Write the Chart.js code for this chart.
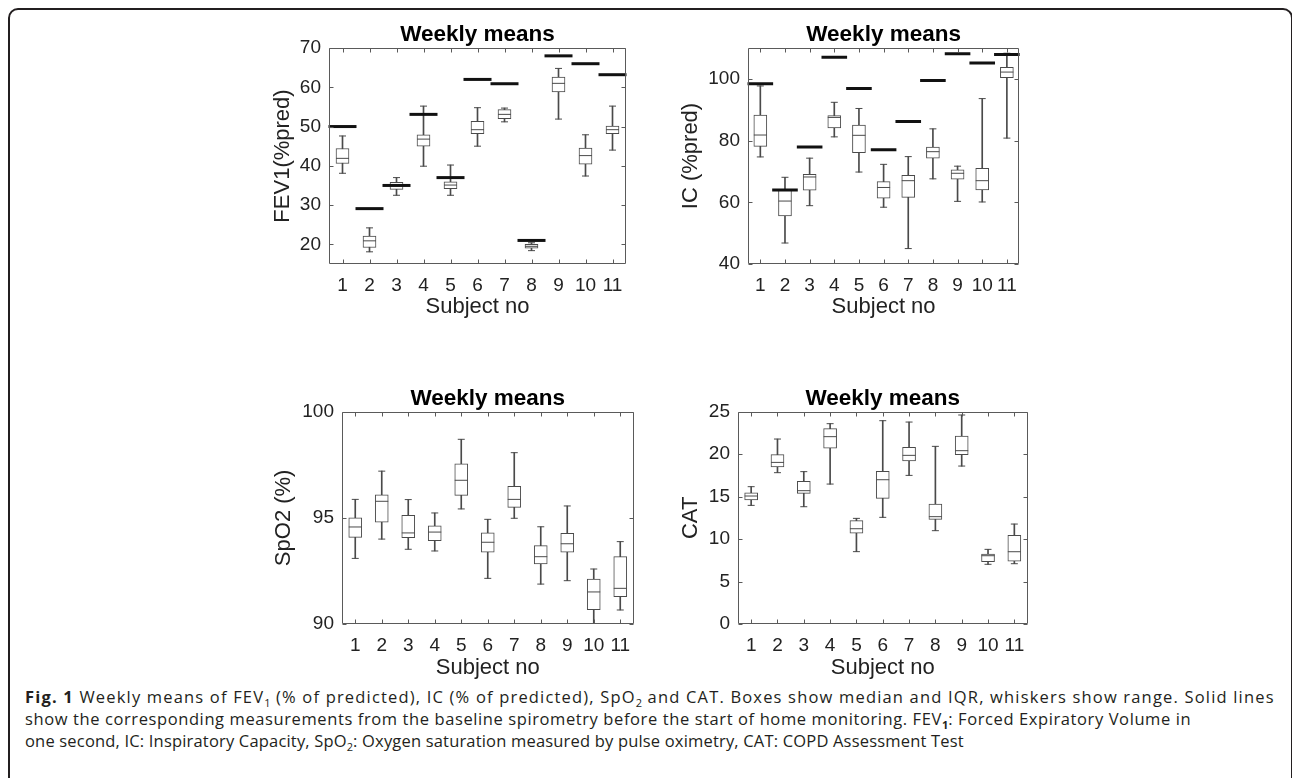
<!DOCTYPE html>
<html><head><meta charset="utf-8">
<script src="https://cdn.jsdelivr.net/npm/chart.js@4.4.1/dist/chart.umd.min.js"></script>
<style>
html,body{margin:0;padding:0;background:#fff;width:1292px;height:778px;overflow:hidden;position:relative;}
#frame{position:absolute;left:8px;top:8px;width:1285px;height:800px;border:2px solid #231f20;border-radius:10px;box-sizing:border-box;}
canvas{position:absolute;}
#cap{position:absolute;left:25px;top:686px;font-family:"Open Sans",sans-serif;font-size:16.5px;color:#231f20;white-space:nowrap;}
#cap div{height:22px;line-height:22px;}
#cap .l1{letter-spacing:1.18px;}
#cap .l2{letter-spacing:0.6px;}
#cap .l3{letter-spacing:0.18px;}
#cap sub{font-size:11px;line-height:0;vertical-align:baseline;position:relative;top:4px;letter-spacing:0;}
</style></head><body>
<div id="frame"></div>
<canvas id="c1" width="373" height="298" style="left:270px;top:22px"></canvas>
<canvas id="c2" width="357" height="298" style="left:678px;top:22px"></canvas>
<canvas id="c3" width="370" height="295" style="left:271px;top:386px"></canvas>
<canvas id="c4" width="357" height="295" style="left:678px;top:386px"></canvas>
<div id="cap">
<div class="l1"><b>Fig. 1</b> Weekly means of FEV<sub>1</sub> (% of predicted), IC (% of predicted), SpO<sub>2</sub> and CAT. Boxes show median and IQR, whiskers show range. Solid lines</div>
<div class="l2">show the corresponding measurements from the baseline spirometry before the start of home monitoring. FEV<sub><b>1</b></sub>: Forced Expiratory Volume in</div>
<div class="l3">one second, IC: Inspiratory Capacity, SpO<sub>2</sub>: Oxygen saturation measured by pulse oximetry, CAT: COPD Assessment Test</div>
</div>
<script>
const subjects = ['1','2','3','4','5','6','7','8','9','10','11'];
// FEV1 (% pred)
const fevMin  = [38.1,18.1,32.5,39.9,32.5,45.0,51.2,18.4,51.9,37.4,44.0];
const fevQ1   = [40.6,19.2,34.0,45.0,34.2,48.2,52.0,19.0,58.8,40.4,48.2];
const fevMed  = [41.9,20.9,35.0,46.8,35.1,49.2,53.1,19.5,61.0,42.6,49.2];
const fevQ3   = [44.4,22.1,35.8,47.9,35.9,51.3,54.3,20.0,62.6,44.5,50.1];
const fevMax  = [47.6,24.2,37.0,55.2,40.2,54.8,54.7,20.4,64.8,47.9,55.2];
const fevBase = [50.0,29.1,35.0,53.1,37.0,62.0,60.9,21.0,68.0,66.0,63.2];
const fevTicks = [20,30,40,50,60,70];
// IC (% pred)
const icMin  = [74.7,46.8,58.9,81.2,69.8,58.4,45.0,67.6,60.3,60.1,80.8];
const icQ1   = [78.1,55.6,63.9,84.1,76.1,61.3,61.6,74.3,67.5,64.0,100.4];
const icMed  = [81.8,60.4,68.2,87.5,81.7,64.8,67.0,76.4,69.4,67.0,102.2];
const icQ3   = [88.3,64.0,69.1,88.1,85.0,66.7,68.7,77.9,70.5,71.0,103.7];
const icMax  = [97.7,68.1,74.3,92.4,90.4,72.3,74.8,83.8,71.7,93.6,108.3];
const icBase = [98.4,64.0,77.9,107.0,96.9,77.0,86.2,99.5,108.1,105.1,107.9];
const icTicks = [40,60,80,100];
// SpO2 (%)
const spoMin = [93.09,94.0,93.52,93.44,95.42,92.15,94.98,91.88,92.04,90.0,90.66];
const spoQ1  = [94.08,94.8,94.07,93.92,96.06,93.38,95.49,92.83,93.38,90.67,91.29];
const spoMed = [94.57,95.78,94.29,94.33,96.77,93.85,95.87,93.17,93.78,91.51,91.68];
const spoQ3  = [95.0,96.09,95.12,94.63,97.55,94.3,96.48,93.69,94.27,92.12,93.17];
const spoMax = [95.87,97.2,95.86,95.23,98.7,94.93,98.07,94.58,95.56,92.59,93.88];
const spoTicks = [90,95,100];
// CAT
const catMin = [13.97,17.82,13.81,16.48,8.52,12.56,17.5,10.99,18.6,7.03,7.1];
const catQ1  = [14.6,18.49,15.38,20.72,10.71,14.8,19.19,12.32,19.94,7.33,7.41];
const catMed = [15.07,19.03,15.7,22.06,11.22,16.99,19.86,12.64,20.41,8.04,8.51];
const catQ3  = [15.46,19.94,16.8,23.0,12.17,17.97,20.8,14.13,22.14,8.24,10.44];
const catMax = [16.17,21.78,17.94,23.59,12.44,23.94,23.78,20.92,24.61,8.79,11.77];
const catTicks = [0,5,10,15,20,25];

const FONT = '"Liberation Sans", Arial, Helvetica, sans-serif';
const INK = '#4a4a4a';
const TXT = '#222222';

const framePlugin = {
  id: 'matlabFrame',
  afterDatasetsDraw(chart) {
    const {ctx, chartArea: a, scales: {x, y}} = chart;
    const L = Math.round(a.left) + 0.5, R = Math.round(a.right) - 0.5;
    const T = Math.round(a.top) + 0.5, B = Math.round(a.bottom) - 0.5;
    const tl = 4;
    ctx.save();
    ctx.strokeStyle = '#5a5a5a';
    ctx.lineWidth = 1;
    ctx.beginPath();
    x.ticks.forEach((t, i) => {
      const px = Math.round(x.getPixelForTick(i)) + 0.5;
      ctx.moveTo(px, B); ctx.lineTo(px, B - tl);
      ctx.moveTo(px, T); ctx.lineTo(px, T + tl);
    });
    y.ticks.forEach((t, i) => {
      const py = Math.round(y.getPixelForTick(i)) + 0.5;
      ctx.moveTo(L, py); ctx.lineTo(L + tl, py);
      ctx.moveTo(R, py); ctx.lineTo(R - tl, py);
    });
    ctx.moveTo(L, T); ctx.lineTo(R, T); ctx.lineTo(R, B); ctx.lineTo(L, B); ctx.closePath();
    ctx.stroke();
    ctx.restore();
  }
};

function pts(style, radius, width, color, data, order) {
  return {type: 'line', data, showLine: false, pointStyle: style, pointRadius: radius,
    pointHoverRadius: radius, pointBorderWidth: width, pointBorderColor: color,
    pointBackgroundColor: color, borderColor: color, order};
}

function makeChart(id, c) {
  const datasets = [
    {type: 'bar', data: subjects.map((_, i) => [c.min[i], c.max[i]]), barThickness: 1,
     backgroundColor: INK, borderWidth: 0, grouped: false, order: 9},
    {type: 'bar', data: subjects.map((_, i) => [c.q1[i], c.q3[i]]), barThickness: c.boxW,
     backgroundColor: '#ffffff', borderColor: INK, borderWidth: 1, borderSkipped: false,
     grouped: false, order: 8},
    pts('line', 3.5, 1, INK, c.max, 7),
    pts('line', 3.5, 1, INK, c.min, 6),
    pts('line', c.boxW / 2, 1, INK, c.med, 5)
  ];
  if (c.base) datasets.push(pts('line', c.baseR, 3, '#111111', c.base, 1));
  return new Chart(document.getElementById(id), {
    data: {labels: subjects, datasets},
    options: {
      responsive: false, animation: false, devicePixelRatio: 1,
      layout: {padding: {left: 0, right: c.padR, top: 0, bottom: 0}},
      plugins: {
        legend: {display: false}, tooltip: {enabled: false},
        title: {display: true, text: 'Weekly means', fullSize: false, color: '#000',
          font: {family: FONT, size: 22.5, weight: 'bold', lineHeight: 1.1},
          padding: {top: 0, bottom: c.titlePad}}
      },
      scales: {
        x: {type: 'category', offset: true,
          grid: {display: false, drawTicks: false}, border: {display: false},
          ticks: {color: TXT, font: {family: FONT, size: 19}, padding: 10, maxRotation: 0, autoSkip: false},
          title: {display: true, text: 'Subject no', color: TXT, font: {family: FONT, size: 22}, padding: 0},
          afterFit: s => { s.height = c.xH; }
        },
        y: {type: 'linear', min: c.yMin, max: c.yMax,
          grid: {display: false, drawTicks: false}, border: {display: false},
          afterBuildTicks: s => { s.ticks = c.ticks.map(v => ({value: v})); },
          ticks: {color: TXT, font: {family: FONT, size: 19}, padding: 8},
          title: {display: true, text: c.yLabel, color: TXT, font: {family: FONT, size: 22}, padding: 0},
          afterFit: s => { s.width = c.yW; }
        }
      }
    },
    plugins: [framePlugin]
  });
}

makeChart('c1', {min: fevMin, q1: fevQ1, med: fevMed, q3: fevQ3, max: fevMax, base: fevBase, baseR: 14,
  yMin: 15, yMax: 70, ticks: fevTicks, yLabel: 'FEV1(%pred)', yW: 59, xH: 56, padR: 6, titlePad: 1.25, boxW: 13});
makeChart('c2', {min: icMin, q1: icQ1, med: icMed, q3: icQ3, max: icMax, base: icBase, baseR: 12.8,
  yMin: 40, yMax: 110, ticks: icTicks, yLabel: 'IC (%pred)', yW: 70, xH: 56, padR: 6, titlePad: 1.25, boxW: 13});
makeChart('c3', {min: spoMin, q1: spoQ1, med: spoMed, q3: spoQ3, max: spoMax, base: null,
  yMin: 90, yMax: 100, ticks: spoTicks, yLabel: 'SpO2 (%)', yW: 71, xH: 57, padR: 6, titlePad: 0.95, boxW: 13});
makeChart('c4', {min: catMin, q1: catQ1, med: catMed, q3: catQ3, max: catMax, base: null,
  yMin: 0, yMax: 25, ticks: catTicks, yLabel: 'CAT', yW: 60, xH: 57, padR: 6, titlePad: 0.95, boxW: 13});
</script>
</body></html>
